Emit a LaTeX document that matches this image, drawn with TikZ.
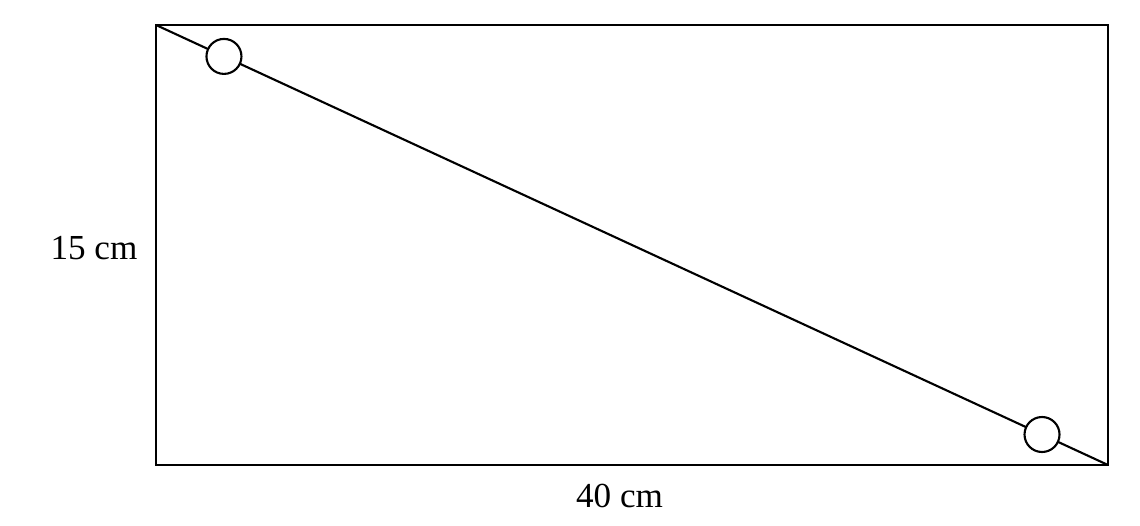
\documentclass[tikz,border=0pt]{standalone}
\usepackage{fontspec}
\setmainfont{Liberation Serif}
\tikzset{
  hole/.style={circle,draw,fill=white,inner sep=0pt,minimum size=0.7cm},
  dimlabel/.style={font=\fontsize{20}{24}\selectfont}
}
\begin{document}
\begin{tikzpicture}[line width=1.2pt]
      \useasboundingbox (0,0) rectangle (22.8,10.5);
      \coordinate (bl) at (3.12,1.2);
      \coordinate (br) at (22.16,1.2);
      \coordinate (tr) at (22.16,10.0);
      \coordinate (tl) at (3.12,10.0);
      \draw (bl) -- (br) -- (tr) -- (tl) -- cycle;
      \draw (tl) -- (br)
        node[hole,pos=0.0714] (hole1) {}
        node[hole,pos=0.9307] (hole2) {};
      \node[dimlabel] (height) at (1.88,5.54) {15 cm};
      \node[dimlabel] (width) at (12.39,0.58) {40 cm};
    \end{tikzpicture}
\end{document}
